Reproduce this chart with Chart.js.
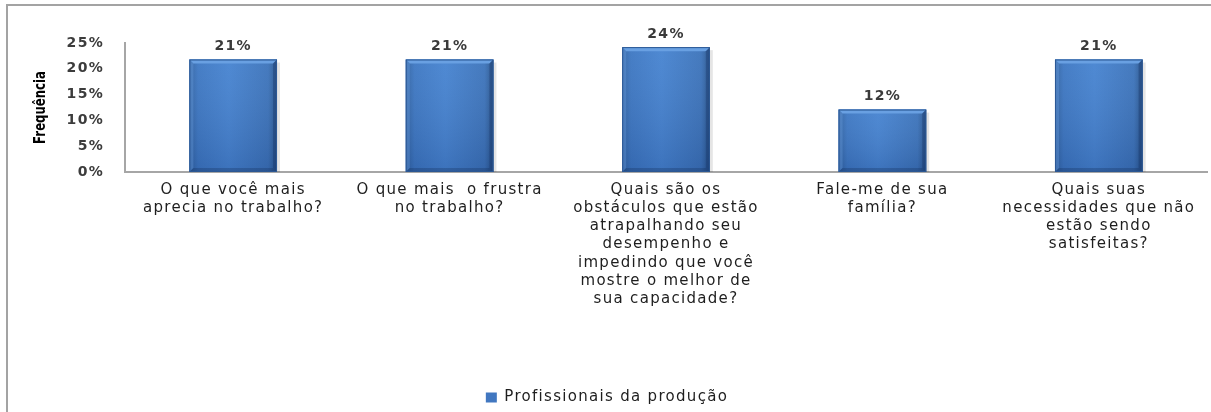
<!DOCTYPE html>
<html>
<head>
<meta charset="utf-8">
<script src="https://cdn.jsdelivr.net/npm/chart.js@4/dist/chart.umd.min.js"></script>
<style>
    html, body { margin: 0; padding: 0; background: #fff; }
    #wrap { position: relative; width: 1211px; height: 412px; overflow: hidden; }
    #frame { position: absolute; left: 6px; top: 4px; right: -10px; bottom: -10px;
             border-left: 2px solid #a3a3a3; border-top: 2px solid #a3a3a3; }
    canvas { position: absolute; left: 0; top: 0; }
</style>
</head>
<body>
<div id="wrap">
    <div id="frame"></div>
    <canvas id="chart" width="1211" height="412"></canvas>
</div>
<script>
// Chart data
const categories = [
    ['O que você mais', 'aprecia no trabalho?'],
    ['O que mais  o frustra', 'no trabalho?'],
    ['Quais são os', 'obstáculos que estão', 'atrapalhando seu', 'desempenho e', 'impedindo que você', 'mostre o melhor de', 'sua capacidade?'],
    ['Fale-me de sua', 'família?'],
    ['Quais suas', 'necessidades que não', 'estão sendo', 'satisfeitas?']
];
const seriesName = 'Profissionais da produção';
const values = [21.8, 21.8, 24.2, 12.1, 21.8];
const yTickValues = [0, 5, 10, 15, 20, 25];
const yTitle = 'Frequência';

const SPACING = '1.3px';   // the original text is rendered wide

// keep letter spacing on the context (canvas resize resets it)
const spacingPlugin = {
    id: 'spacing',
    beforeUpdate(chart) { chart.ctx.letterSpacing = SPACING; },
    beforeLayout(chart) { chart.ctx.letterSpacing = SPACING; },
    beforeDraw(chart) { chart.ctx.letterSpacing = SPACING; }
};

// narrow bold y axis title, like the original
const yTitlePlugin = {
    id: 'yTitle',
    afterDraw(chart) {
        const ctx = chart.ctx;
        const area = chart.chartArea;
        ctx.save();
        ctx.letterSpacing = '0px';
        ctx.translate(41, (area.top + area.bottom) / 2);
        ctx.rotate(-Math.PI / 2);
        ctx.scale(0.78, 1);
        ctx.font = 'bold 15px "DejaVu Sans"';
        ctx.fillStyle = '#000';
        ctx.textAlign = 'center';
        ctx.textBaseline = 'middle';
        ctx.fillText(yTitle, 0, 0);
        ctx.restore();
    }
};

// bevelled blue bars + value labels on top
const barLook = {
    id: 'barLook',
    afterDatasetsDraw(chart) {
        const ctx = chart.ctx;
        const meta = chart.getDatasetMeta(0);
        meta.data.forEach((bar, i) => {
            const p = bar.getProps(['x', 'y', 'base', 'width'], true);
            const left = p.x - p.width / 2, right = p.x + p.width / 2;
            const top = p.y, bottom = p.base, w = p.width, b = 4;
            ctx.save();
            // soft shadow
            ctx.fillStyle = 'rgba(0,0,0,0.10)';
            ctx.fillRect(right, top + 3, 3, bottom - top - 3);
            // body
            let g = ctx.createLinearGradient(left, 0, right, 0);
            g.addColorStop(0, '#2f62a2');
            g.addColorStop(0.1, '#3b76c2');
            g.addColorStop(0.45, '#4482d0');
            g.addColorStop(0.9, '#3a72ba');
            g.addColorStop(1, '#27548c');
            ctx.fillStyle = g;
            ctx.fillRect(left, top, w, bottom - top);
            // vertical shading
            let gv = ctx.createLinearGradient(0, top, 0, bottom);
            gv.addColorStop(0, 'rgba(255,255,255,0.06)');
            gv.addColorStop(1, 'rgba(0,0,40,0.12)');
            ctx.fillStyle = gv;
            ctx.fillRect(left, top, w, bottom - top);
            // top bevel
            ctx.fillStyle = '#69a0e2';
            ctx.beginPath();
            ctx.moveTo(left, top); ctx.lineTo(right, top);
            ctx.lineTo(right - b, top + b); ctx.lineTo(left + b, top + b);
            ctx.closePath(); ctx.fill();
            // left bevel
            ctx.fillStyle = 'rgba(110,160,225,0.35)';
            ctx.beginPath();
            ctx.moveTo(left, top); ctx.lineTo(left + b, top + b);
            ctx.lineTo(left + b, bottom - b); ctx.lineTo(left, bottom);
            ctx.closePath(); ctx.fill();
            // right bevel
            ctx.fillStyle = 'rgba(20,50,100,0.35)';
            ctx.beginPath();
            ctx.moveTo(right, top); ctx.lineTo(right - b, top + b);
            ctx.lineTo(right - b, bottom - b); ctx.lineTo(right, bottom);
            ctx.closePath(); ctx.fill();
            // bottom bevel
            ctx.fillStyle = 'rgba(20,45,90,0.3)';
            ctx.beginPath();
            ctx.moveTo(left, bottom); ctx.lineTo(left + b, bottom - b);
            ctx.lineTo(right - b, bottom - b); ctx.lineTo(right, bottom);
            ctx.closePath(); ctx.fill();
            // outline
            ctx.strokeStyle = '#2c5894';
            ctx.lineWidth = 1;
            ctx.strokeRect(left + 0.5, top + 0.5, w - 1, bottom - top - 1);
            // value label
            ctx.letterSpacing = SPACING;
            ctx.fillStyle = '#3a3a3a';
            ctx.font = 'bold 14px "DejaVu Sans"';
            ctx.textAlign = 'center';
            ctx.textBaseline = 'bottom';
            ctx.fillText(Math.floor(values[i]) + '%', p.x, top - 6);
            ctx.restore();
        });
    }
};

new Chart(document.getElementById('chart'), {
    type: 'bar',
    data: {
        labels: categories,
        datasets: [{
            label: seriesName,
            data: values,
            backgroundColor: '#4177c0',
            borderWidth: 0,
            barPercentage: 0.405,
            categoryPercentage: 1
        }]
    },
    options: {
        responsive: false,
        animation: false,
        devicePixelRatio: 1,
        layout: { padding: { top: 43, left: 7, right: 4, bottom: -3 } },
        scales: {
            x: {
                grid: { display: false, drawTicks: false },
                border: { display: true, color: '#a6a6a6', width: 2 },
                ticks: {
                    maxRotation: 0, autoSkip: false, padding: 9,
                    color: '#1e1e1e',
                    font: { family: '"DejaVu Sans"', size: 15, lineHeight: 1.21 }
                },
                afterFit(scale) { scale.height = 211; }
            },
            y: {
                min: 0, max: 25,
                afterBuildTicks(scale) { scale.ticks = yTickValues.map(v => ({ value: v })); },
                grid: { display: false, drawTicks: false },
                border: { display: true, color: '#a6a6a6', width: 2 },
                ticks: {
                    padding: 21,
                    color: '#3c3c3c',
                    font: { family: '"DejaVu Sans"', size: 14, weight: 'bold' },
                    callback: v => v + '%'
                },
                title: { display: false },
                afterFit(scale) { scale.width = 118; }
            }
        },
        plugins: {
            legend: {
                position: 'bottom',
                labels: {
                    boxWidth: 11, boxHeight: 10, padding: 7,
                    color: '#1e1e1e',
                    font: { family: '"DejaVu Sans"', size: 15 }
                }
            },
            tooltip: { enabled: false }
        }
    },
    plugins: [spacingPlugin, barLook, yTitlePlugin]
});
</script>
</body>
</html>
